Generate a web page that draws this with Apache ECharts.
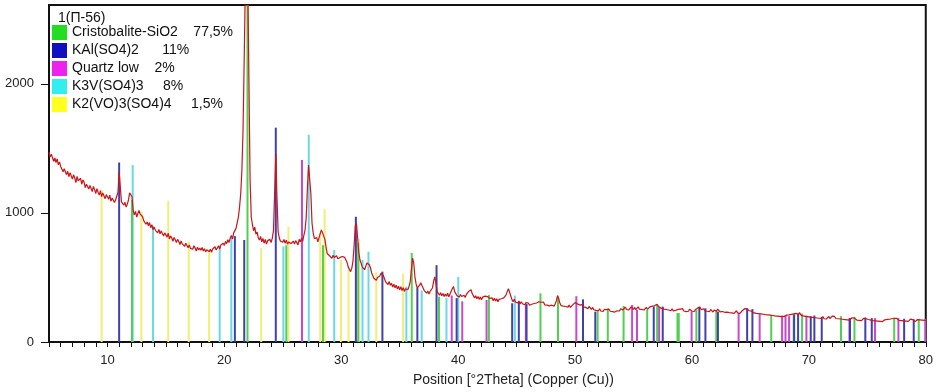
<!DOCTYPE html>
<html>
<head>
<meta charset="utf-8">
<script src="https://cdn.jsdelivr.net/npm/echarts@6/dist/echarts.min.js"></script>
<style>
html,body{margin:0;padding:0;background:#fff;}
#chart{width:936px;height:392px;}
</style>
</head>
<body>
<div id="chart"></div>
<script>
// ---- data ----
const sampleTitle = '1(П-56)';
const phaseNames = ['Cristobalite-SiO2', 'KAl(SO4)2', 'Quartz low', 'K3V(SO4)3', 'K2(VO)3(SO4)4'];
const phasePercents = ['77,5%', '11%', '2%', '8%', '1,5%'];
const phaseGaps = ['    ', '      ', '    ', '     ', '     '];

// measured scan: start 5 °2θ, step 0.1 °2θ
const scanStart = 5.0;
const scanStep = 0.1;
const scanCounts = [
1470,1432,1455,1448,1400,1425,1390,1418,1372,1395,
1360,1372,1318,1342,1335,1296,1322,1280,1312,1300,
1262,1295,1270,1235,1282,1248,1240,1268,1222,1255,
1238,1196,1222,1230,1185,1212,1198,1165,1205,1180,
1150,1188,1160,1138,1172,1125,1155,1148,1110,1142,
1130,1105,1138,1090,1115,1122,1080,1102,1095,1160,
1320,1200,1085,1098,1060,1082,1045,1068,1100,1155,
1170,1125,1020,985,1012,968,995,1018,990,1005,
972,940,955,912,930,900,925,885,908,870,
890,865,878,845,872,838,860,852,820,845,
830,812,842,798,822,805,780,810,792,770,
795,778,755,782,760,772,740,765,752,730,
752,725,740,718,745,728,705,735,712,728,
710,732,705,722,698,715,725,700,718,695,
720,705,738,712,728,745,720,752,738,765,
748,778,762,792,770,805,825,798,845,858,
880,925,968,1045,1150,1330,1650,2200,2800,2800,
2800,2050,1260,968,910,862,890,835,852,808,
790,818,775,802,765,795,758,785,772,795,
770,805,860,1150,1460,1120,855,805,780,792,
772,795,765,788,758,775,790,762,750,780,
758,785,770,752,795,775,802,780,825,865,
960,1180,1370,1385,1150,920,845,800,795,810,
775,808,840,868,845,858,795,735,685,678,
668,680,648,672,655,640,668,645,632,655,
640,662,672,655,635,615,580,565,545,570,
625,745,900,920,805,695,635,610,580,575,
560,588,612,625,598,575,535,520,492,495,
478,500,485,512,532,545,515,502,465,468,
445,468,438,455,425,448,420,440,410,432,
405,428,398,420,392,412,398,405,432,468,
560,650,612,505,450,418,425,440,458,438,
425,398,390,378,395,372,392,380,418,472,
505,455,392,380,362,382,358,375,352,372,
355,378,350,372,385,412,430,390,375,358,
362,348,368,352,340,362,345,368,370,392,
395,405,375,360,342,358,335,352,330,348,
328,348,335,355,340,352,365,338,328,342,
320,338,318,335,312,330,315,335,322,342,
330,365,392,412,415,358,328,312,332,310,
322,302,318,295,312,296,308,288,305,290,
302,285,298,292,282,298,288,302,290,312,
322,308,298,310,288,302,285,298,280,295,
285,298,278,295,320,360,338,302,282,292,
278,292,275,288,270,286,268,282,288,298,
305,312,295,282,286,278,290,272,284,268,
268,258,275,262,252,268,250,262,245,258,
242,258,240,255,236,252,240,250,238,255,
238,252,235,248,232,246,242,256,240,258,
265,248,260,270,252,265,248,260,272,258,
252,268,250,265,272,255,268,252,265,248,
260,268,252,265,272,258,278,265,280,270,
292,284,270,282,260,272,255,268,252,264,
248,260,242,258,240,255,245,238,252,242,
255,242,258,240,252,235,250,238,255,242,
238,250,236,252,258,264,255,268,250,246,
258,242,255,238,250,235,252,240,232,248,
250,238,255,242,234,248,236,250,230,242,
232,245,228,240,225,238,222,235,242,226,
238,222,235,242,250,258,264,256,252,242,
255,238,236,225,238,222,235,220,232,218,
228,215,230,212,225,210,222,208,220,205,
218,202,215,200,212,198,210,196,208,198,
194,208,196,210,198,214,204,218,208,222,
224,212,228,210,220,202,214,198,210,196,
208,192,205,190,202,188,200,186,198,184,
195,182,198,180,192,178,190,198,182,195,
200,186,198,182,195,180,192,178,188,176,
188,174,185,172,182,170,180,188,174,185,
182,170,180,168,178,166,178,184,170,180,
188,174,185,170,180,166,178,164,175,162,
172,160,170,158,168,172,162,175,164,176,
168,180,170,182,172,184,174,168,180,166,
177,164,174,162,172,160,170,177,164,174,
170,158,168,174,162,172,160,170,158,168,
170
];

// reference pattern sticks: [position °2θ, height in counts]
const cristobaliteSticks = [[12.10,1100],[21.98,2700],[25.30,750],[28.44,750],[31.45,767],[36.03,690],[38.36,351],[42.63,364],[47.04,377],[48.54,351],[51.93,248],[52.80,261],[54.15,279],[56.17,248],[57.02,292],[58.76,224],[58.87,224],[60.38,250],[62.08,248],[66.78,209],[68.70,210],[69.42,220],[72.75,200],[73.90,195],[77.30,190],[79.40,180]];
const kalumSticks = [[11.00,1390],[20.90,820],[21.70,790],[24.40,1660],[31.25,970],[33.52,545],[36.51,418],[38.15,595],[39.87,340],[44.62,300],[45.19,313],[45.85,295],[50.68,330],[51.73,235],[56.73,274],[57.50,274],[60.63,274],[61.15,261],[62.22,235],[64.72,261],[65.17,255],[68.74,215],[69.08,220],[70.16,200],[70.47,205],[71.10,195],[73.52,185],[74.83,190],[75.38,185],[78.15,180],[78.97,175]];
const quartzSticks = [[26.64,1410],[39.45,360],[40.35,315],[42.43,325],[45.79,290],[50.11,355],[54.88,287],[55.30,248],[57.19,270],[59.97,235],[63.99,224],[65.79,215],[67.71,205],[68.00,205],[68.31,200],[69.79,205],[73.47,185],[75.66,185],[77.66,185],[79.97,180]];
const k3vSticks = [[12.16,1370],[13.90,900],[19.60,744],[20.60,810],[25.05,740],[27.22,1605],[29.40,713],[31.82,636],[32.33,700],[35.57,429],[36.88,400],[39.00,340],[40.01,504],[44.85,360]];
const k2voSticks = [[9.50,1180],[12.90,1010],[15.20,1095],[16.95,778],[18.70,713],[23.15,729],[25.48,894],[28.20,845],[28.58,1030],[29.97,636],[30.62,558],[31.50,800],[33.00,540],[35.29,530]];

const xTickLabels = [10,20,30,40,50,60,70,80];
const yTickLabels = [0,1000,2000];

// ---- chart ----
const scanData = scanCounts.map((c, i) => [+(scanStart + i * scanStep).toFixed(2), c]);
const xMinorTicks = [];
for (let v = 5; v <= 80; v++) xMinorTicks.push(v);

const legendColors = ['#22dd22', '#1010c0', '#ee22ee', '#33eeee', '#ffff22'];
const stickColors = ['#52cf52', '#4040aa', '#c848cc', '#68d8e4', '#eeee78'];
const stickSets = [cristobaliteSticks, kalumSticks, quartzSticks, k3vSticks, k2voSticks];

function stickRender(params, api) {
  const p0 = api.coord([api.value(0), 0]);
  const p1 = api.coord([api.value(0), api.value(1)]);
  return {
    type: 'line',
    shape: { x1: p0[0], y1: p0[1], x2: p1[0], y2: p1[1] },
    style: { stroke: api.visual('color'), lineWidth: 2 }
  };
}

const drawOrder = [4, 3, 2, 0, 1];
const series = drawOrder.map(k => ({
  name: phaseNames[k],
  type: 'custom',
  renderItem: stickRender,
  clip: true,
  itemStyle: { color: stickColors[k] },
  encode: { x: 0, y: 1 },
  data: stickSets[k],
  z: 2
}));
series.push({
  name: 'scan',
  type: 'line',
  data: scanData,
  showSymbol: false,
  clip: true,
  lineStyle: { color: '#cc1419', width: 1.2 },
  itemStyle: { color: '#cc1419' },
  z: 5
});

const chart = echarts.init(document.getElementById('chart'), null, { renderer: 'canvas' });
chart.setOption({
  animation: false,
  backgroundColor: '#ffffff',
  textStyle: { fontFamily: 'Liberation Sans, Arial, sans-serif' },
  title: {
    text: sampleTitle,
    left: 53, top: 6,
    textStyle: { fontSize: 14, fontWeight: 'normal', color: '#111', fontFamily: 'Liberation Sans, Arial, sans-serif' }
  },
  legend: {
    orient: 'vertical',
    left: 52, top: 25,
    padding: 0,
    itemWidth: 15, itemHeight: 15, itemGap: 3,
    icon: 'rect',
    selectedMode: false,
    data: phaseNames.map((n, i) => ({ name: n, itemStyle: { color: legendColors[i] } })),
    formatter: name => {
      const i = phaseNames.indexOf(name);
      return name + phaseGaps[i] + phasePercents[i];
    },
    textStyle: { fontSize: 14, color: '#111', fontFamily: 'Liberation Sans, Arial, sans-serif' }
  },
  grid: {
    left: 49, right: 7, top: 5, bottom: 50,
    show: true, borderColor: '#111', borderWidth: 2, backgroundColor: 'transparent'
  },
  xAxis: {
    type: 'value', min: 5, max: 80,
    axisLine: { show: true, onZero: false, lineStyle: { color: '#111', width: 2 } },
    axisTick: { show: true, inside: false, length: 5, customValues: xMinorTicks, lineStyle: { color: '#111', width: 1 } },
    axisLabel: { customValues: xTickLabels, fontSize: 13, color: '#222', margin: 12, formatter: v => String(v) },
    splitLine: { show: false }
  },
  yAxis: {
    type: 'value', min: 0, max: 2610,
    axisLine: { show: true, lineStyle: { color: '#111', width: 2 } },
    axisTick: { show: true, inside: false, length: 8, customValues: yTickLabels, lineStyle: { color: '#111', width: 1 } },
    axisLabel: { customValues: yTickLabels, fontSize: 13, color: '#222', margin: 15, formatter: v => String(v) },
    splitLine: { show: false }
  },
  graphic: [{
    type: 'text',
    left: 413, top: 373,
    style: { text: 'Position [°2Theta] (Copper (Cu))', fontSize: 14, fill: '#222', font: '14px "Liberation Sans", Arial, sans-serif' }
  }],
  series: series
});
</script>
</body>
</html>
